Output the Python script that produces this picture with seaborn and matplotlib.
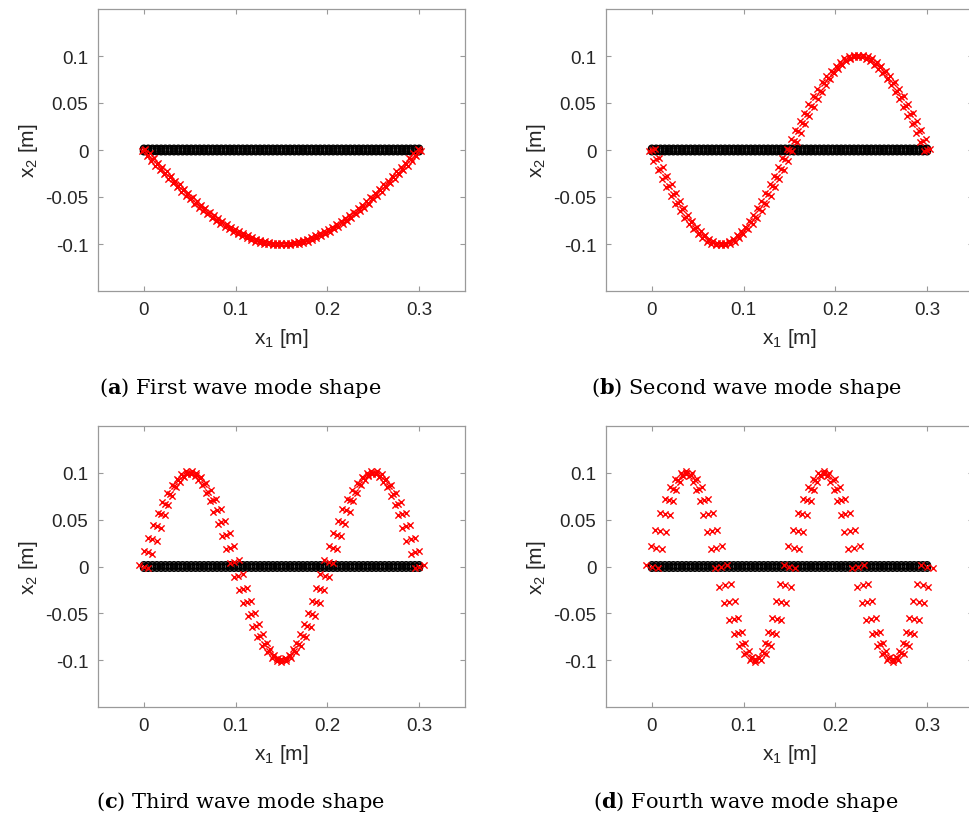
import numpy as np
import pandas as pd
import matplotlib
matplotlib.use("Agg")
import matplotlib.pyplot as plt
import seaborn as sns

# ---------------- data ----------------
node_x = [0.0000, 0.0047, 0.0094, 0.0141, 0.0188, 0.0234, 0.0281, 0.0328, 0.0375, 0.0422,
          0.0469, 0.0516, 0.0563, 0.0609, 0.0656, 0.0703, 0.0750, 0.0797, 0.0844, 0.0891,
          0.0938, 0.0984, 0.1031, 0.1078, 0.1125, 0.1172, 0.1219, 0.1266, 0.1313, 0.1359,
          0.1406, 0.1453, 0.1500, 0.1547, 0.1594, 0.1641, 0.1688, 0.1734, 0.1781, 0.1828,
          0.1875, 0.1922, 0.1969, 0.2016, 0.2063, 0.2109, 0.2156, 0.2203, 0.2250, 0.2297,
          0.2344, 0.2391, 0.2438, 0.2484, 0.2531, 0.2578, 0.2625, 0.2672, 0.2719, 0.2766,
          0.2813, 0.2859, 0.2906, 0.2953, 0.3000]

# undeformed through-thickness node rows (x2 of each row)
layer_x2 = [-0.0015, 0.0, 0.0015]

mode1_x2 = [0, -.005, -.010, -.015, -.020, -.024, -.029, -.034, -.038, -.043, -.047, -.051,
            -.056, -.060, -.063, -.067, -.071, -.074, -.077, -.080, -.083, -.086, -.088, -.090,
            -.092, -.094, -.096, -.097, -.098, -.099, -.100, -.100, -.100,
            -.100, -.100, -.099, -.098, -.097, -.096, -.094, -.092, -.090, -.088, -.086, -.083,
            -.080, -.077, -.074, -.071, -.067, -.063, -.060, -.056, -.051, -.047, -.043, -.038,
            -.034, -.029, -.024, -.020, -.015, -.010, -.005, 0]

mode2_x2 = [0, -.010, -.020, -.029, -.038, -.047, -.056, -.063, -.071, -.077, -.083, -.088,
            -.092, -.096, -.098, -.100, -.100,
            -.100, -.098, -.096, -.092, -.088, -.083, -.077, -.071, -.063, -.056, -.047, -.038,
            -.029, -.020, -.010, 0,
            .010, .020, .029, .038, .047, .056, .063, .071, .077, .083, .088, .092, .096, .098,
            .100, .100,
            .100, .098, .096, .092, .088, .083, .077, .071, .063, .056, .047, .038, .029, .020,
            .010, 0]

mode3_x2 = [0, .015, .029, .043, .056, .067, .077, .086, .092, .097, .100, .100, .098, .094,
            .088, .080, .071, .060, .047, .034, .020, .005, -.010, -.024, -.038, -.051, -.063,
            -.074, -.083, -.090, -.096, -.099, -.100,
            -.099, -.096, -.090, -.083, -.074, -.063, -.051, -.038, -.024, -.010, .005, .020,
            .034, .047, .060, .071, .080, .088, .094, .098, .100, .100, .097, .092, .086, .077,
            .067, .056, .043, .029, .015, 0]

mode4_x2 = [0, .020, .038, .056, .071, .083, .092, .098, .100, .098, .092, .083, .071, .056,
            .038, .020, 0,
            -.020, -.038, -.056, -.071, -.083, -.092, -.098, -.100, -.098, -.092, -.083, -.071,
            -.056, -.038, -.020, 0,
            .020, .038, .056, .071, .083, .092, .098, .100, .098, .092, .083, .071, .056, .038,
            .020, 0,
            -.020, -.038, -.056, -.071, -.083, -.092, -.098, -.100, -.098, -.092, -.083, -.071,
            -.056, -.038, -.020, 0]

panel_letters = ["a", "b", "c", "d"]
panel_titles = ["First wave mode shape", "Second wave mode shape",
                "Third wave mode shape", "Fourth wave mode shape"]
modes = [mode1_x2, mode2_x2, mode3_x2, mode4_x2]

x_ticks = [0, 0.1, 0.2, 0.3]
x_tick_labels = ["0", "0.1", "0.2", "0.3"]
y_ticks = [-0.1, -0.05, 0, 0.05, 0.1]
y_tick_labels = ["-0.1", "-0.05", "0", "0.05", "0.1"]

# ---------------- style ----------------
sns.set_theme(style="white")
plt.rcParams["font.family"] = ["Liberation Sans", "DejaVu Sans"]
plt.rcParams["mathtext.fontset"] = "custom"
plt.rcParams["mathtext.rm"] = "Liberation Sans"
plt.rcParams["mathtext.it"] = "Liberation Sans"

W, H = 970, 820
fig = plt.figure(figsize=(W / 100, H / 100), dpi=100)

# axes boxes in pixel coordinates: (left, top, right, bottom)
boxes = [(98, 10, 465, 292), (606, 10, 973, 292),
         (98, 427, 465, 708), (606, 427, 973, 708)]
caption_pos = [(240, 388), (746, 388), (240, 802), (746, 802)]

spine_col = "#9a9a9a"
text_col = "#262626"

nx = np.array(node_x)
for i, (box, w) in enumerate(zip(boxes, modes)):
    l, t, r, b = box
    ax = fig.add_axes([l / W, 1 - b / H, (r - l) / W, (b - t) / H])
    w = np.array(w)
    rot = np.gradient(w, nx)
    und_rows, def_rows = [], []
    for y0 in layer_x2:
        und_rows.append(pd.DataFrame({"x1": nx, "x2": np.full_like(nx, y0)}))
        def_rows.append(pd.DataFrame({"x1": nx - y0 * rot, "x2": y0 + w}))
    und = pd.concat(und_rows, ignore_index=True)
    dfm = pd.concat(def_rows, ignore_index=True)

    sns.scatterplot(data=und, x="x1", y="x2", ax=ax, marker="o", s=24,
                    facecolor="none", edgecolor="black", linewidth=1.0, zorder=2)
    sns.scatterplot(data=dfm, x="x1", y="x2", ax=ax, marker="x", s=20,
                    color="red", linewidth=1.0, zorder=3)

    ax.set_xlim(-0.05, 0.35)
    ax.set_ylim(-0.15, 0.15)
    ax.set_xticks(x_ticks)
    ax.set_xticklabels(x_tick_labels)
    ax.set_yticks(y_ticks)
    ax.set_yticklabels(y_tick_labels)
    ax.tick_params(direction="in", length=3.5, width=0.8, color=spine_col,
                   labelsize=13.5, labelcolor=text_col, top=True, right=True,
                   bottom=True, left=True, pad=7)
    for sp in ax.spines.values():
        sp.set_color(spine_col)
        sp.set_linewidth(0.9)
    ax.set_xlabel(r"x$_1$ [m]", fontsize=15, color=text_col, labelpad=6)
    ax.set_ylabel(r"x$_2$ [m]", fontsize=15, color=text_col, labelpad=4)
    ax.set_facecolor("white")

    cx, cy = caption_pos[i]
    fig.text(cx / W, 1 - cy / H,
             r"($\mathbf{" + panel_letters[i] + r"}$) " + panel_titles[i],
             ha="center", va="center", fontsize=15, color="black",
             family=["DejaVu Serif"], math_fontfamily="dejavuserif")

fig.savefig("out.png", dpi=100, facecolor="white")
